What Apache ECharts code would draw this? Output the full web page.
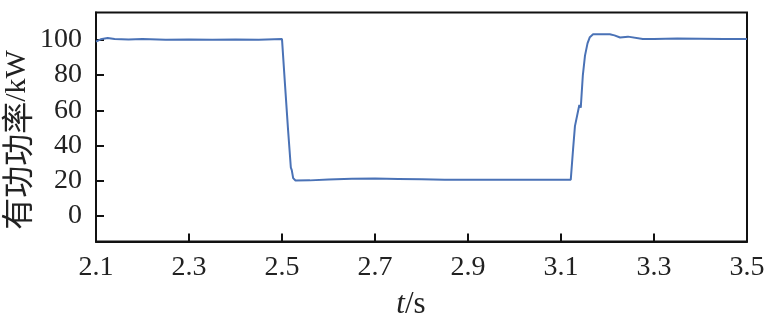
<!DOCTYPE html>
<html>
<head>
<meta charset="utf-8">
<script src="https://cdn.jsdelivr.net/npm/echarts@6/dist/echarts.min.js"></script>
<style>html,body{margin:0;padding:0;background:#fff}#c{width:774px;height:325px}</style>
</head>
<body>
<div id="c"></div>
<script>
var times = [2.100,2.110,2.125,2.140,2.170,2.200,2.250,2.300,2.350,2.400,2.450,2.500,2.5066,2.513,2.519,2.521,2.524,2.529,2.560,2.600,2.650,2.700,2.750,2.800,2.850,2.900,2.950,3.000,3.050,3.100,3.121,3.126,3.130,3.1394,3.1425,3.147,3.1516,3.157,3.162,3.169,3.205,3.215,3.227,3.244,3.276,3.300,3.350,3.400,3.450,3.500];
var power = [99.0,100.3,101.0,100.5,100.2,100.5,100.0,100.2,100.1,100.2,100.1,100.4,74,49,27.5,26,21.5,20.1,20.2,20.7,21.1,21.2,21.0,20.8,20.6,20.5,20.6,20.6,20.6,20.6,20.6,38,51,63,61.5,80,91,98,101.5,103.1,103.2,102.5,101.3,101.8,100.4,100.5,100.7,100.6,100.5,100.5];
var xTicks = [2.1,2.3,2.5,2.7,2.9,3.1,3.3,3.5];
var yTicks = [0,20,40,60,80,100];
var yTitleCjk = '有功功率';
var yTitleUnit = '/kW';
var xTitleVar = 't';
var xTitleUnit = '/s';

var data = times.map(function(t,i){return [t, power[i]];});
var chart = echarts.init(document.getElementById('c'), null, {renderer:'canvas'});
var serif = 'Liberation Serif, "Times New Roman", serif';
var cjk = '"Noto Sans CJK SC", sans-serif';
chart.setOption({
  animation:false,
  backgroundColor:'#fff',
  grid:{left:96,right:27,top:12.5,bottom:83.5,containLabel:false,outerBoundsMode:'none',show:true,borderColor:'#111',borderWidth:2,backgroundColor:'transparent'},
  graphic:[{
    type:'text',x:17,y:140,rotation:Math.PI/2,
    style:{text:'{c|'+yTitleCjk+'}{s|'+yTitleUnit+'}',align:'center',verticalAlign:'middle',fill:'#222',
      rich:{c:{fontFamily:cjk,fontSize:32,fill:'#222'},s:{fontFamily:serif,fontSize:30,fill:'#222'}}}
  },{
    type:'text',x:411,y:305,
    style:{text:'{i|'+xTitleVar+'}{s|'+xTitleUnit+'}',align:'center',verticalAlign:'middle',fill:'#222',
      rich:{i:{fontFamily:serif,fontStyle:'italic',fontSize:31,fill:'#222'},s:{fontFamily:serif,fontSize:31,fill:'#222'}}}
  }],
  xAxis:{
    type:'value',min:2.1,max:3.5,
    splitLine:{show:false},
    axisLine:{onZero:false,lineStyle:{color:'#111',width:2}},
    axisTick:{inside:true,length:8,lineStyle:{color:'#111',width:2},customValues:xTicks},
    axisLabel:{customValues:xTicks,formatter:function(v){return v.toFixed(1);},color:'#222',fontSize:28,fontFamily:serif,margin:12}
  },
  yAxis:{
    type:'value',min:-14.5,max:115.5,
    splitLine:{show:false},
    axisLine:{onZero:false,lineStyle:{color:'#111',width:2}},
    axisTick:{inside:true,length:8,lineStyle:{color:'#111',width:2},customValues:yTicks},
    axisLabel:{customValues:yTicks,color:'#222',fontSize:28,fontFamily:serif,margin:14}
  },
  series:[{
    type:'line',data:data,showSymbol:false,smooth:false,
    lineStyle:{color:'#4a72b6',width:2},
    clip:true
  }]
});
</script>
</body>
</html>
